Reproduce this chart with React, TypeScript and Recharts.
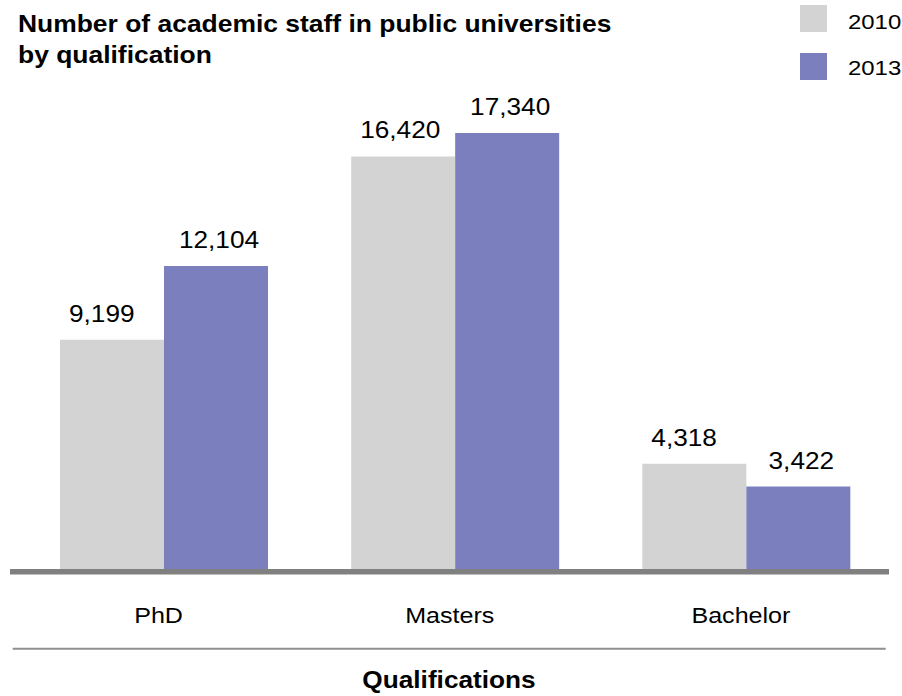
import React from 'react';
import { BarChart, Bar, XAxis, YAxis, LabelList, Legend } from 'recharts';

const categories = ['PhD', 'Masters', 'Bachelor'];
const staff2010 = [9199, 16420, 4318];
const staff2013 = [12104, 17340, 3422];
const seriesNames = ['2010', '2013'];
const seriesKeys = ['y2010', 'y2013'];
const seriesColors = ['#d3d3d3', '#7b7fbd'];
const titleLines = ['Number of academic staff in public universities', 'by qualification'];
const axisTitle = 'Qualifications';

const data = categories.map((c, i) => ({ cat: c, y2010: staff2010[i], y2013: staff2013[i] }));

const FONT = '"Liberation Sans", Arial, Helvetica, sans-serif';
const SX = 1.14;

const fmt = (v: number) => Number(v).toLocaleString('en-US');

const StretchText = ({ x, y, children, size, weight = 'normal', anchor = 'start' }: any) => (
  <text
    transform={`translate(${x} ${y}) scale(${SX} 1)`}
    x={0}
    y={0}
    fontSize={size}
    fontWeight={weight}
    fontFamily={FONT}
    fill="#000"
    textAnchor={anchor}
  >
    {children}
  </text>
);

const CatTick = (props: any) => {
  const { x, y, payload } = props;
  return (
    <StretchText x={x - 5} y={y + 49} size={22} anchor="middle">
      {payload.value}
    </StretchText>
  );
};

const Label2010 = (props: any) => {
  const { x, y, value } = props;
  return (
    <StretchText x={Number(x) + 9} y={Number(y) - 18} size={23}>
      {fmt(value)}
    </StretchText>
  );
};

const Label2013 = (props: any) => {
  const { x, y, width, value } = props;
  return (
    <StretchText x={Number(x) + Number(width) / 2 + 3} y={Number(y) - 18} size={23} anchor="middle">
      {fmt(value)}
    </StretchText>
  );
};

const LegendContent = (props: any) => {
  const items = props.payload || [];
  return (
    <svg width={902} height={90} style={{ display: 'block' }}>
      {items.map((it: any, i: number) => (
        <g key={i}>
          <rect x={800} y={5 + i * 48} width={27} height={27} fill={it.color} />
          <StretchText x={848} y={28.5 + i * 46} size={21}>
            {it.value}
          </StretchText>
        </g>
      ))}
    </svg>
  );
};

export default function App() {
  return (
    <div style={{ position: 'absolute', left: 0, top: 0, width: 902, height: 696, background: '#fff' }}>
      <BarChart
        width={902}
        height={696}
        data={data}
        margin={{ top: 65.5, right: 10.5, bottom: 62.5, left: 18 }}
        barGap={0}
        barSize={104}
      >
        <YAxis hide domain={[0, 20000]} />
        <XAxis
          dataKey="cat"
          height={60}
          axisLine={false}
          tickLine={false}
          tickSize={0}
          tickMargin={0}
          tick={<CatTick />}
          interval={0}
        />
        <Legend
          layout="horizontal"
          verticalAlign="middle"
          align="center"
          content={<LegendContent />}
          wrapperStyle={{ position: 'absolute', left: 0, top: 0, width: 902, height: 90 }}
        />
        <Bar dataKey={seriesKeys[0]} name={seriesNames[0]} fill={seriesColors[0]} isAnimationActive={false}>
          <LabelList dataKey={seriesKeys[0]} content={<Label2010 />} />
        </Bar>
        <Bar dataKey={seriesKeys[1]} name={seriesNames[1]} fill={seriesColors[1]} isAnimationActive={false}>
          <LabelList dataKey={seriesKeys[1]} content={<Label2013 />} />
        </Bar>
      </BarChart>
      <svg
        width={902}
        height={696}
        style={{ position: 'absolute', left: 0, top: 0, pointerEvents: 'none' }}
      >
        <StretchText x={18} y={32.3} size={23.2} weight="bold">
          {titleLines[0]}
        </StretchText>
        <StretchText x={18} y={63.3} size={23.2} weight="bold">
          {titleLines[1]}
        </StretchText>
        <rect x={10} y={569} width={879} height={5.5} fill="#808080" />
        <line x1={12.7} x2={885.7} y1={648.7} y2={648.7} stroke="#909090" strokeWidth={2} />
        <StretchText x={449} y={688.3} size={23} weight="bold" anchor="middle">
          {axisTitle}
        </StretchText>
      </svg>
    </div>
  );
}
